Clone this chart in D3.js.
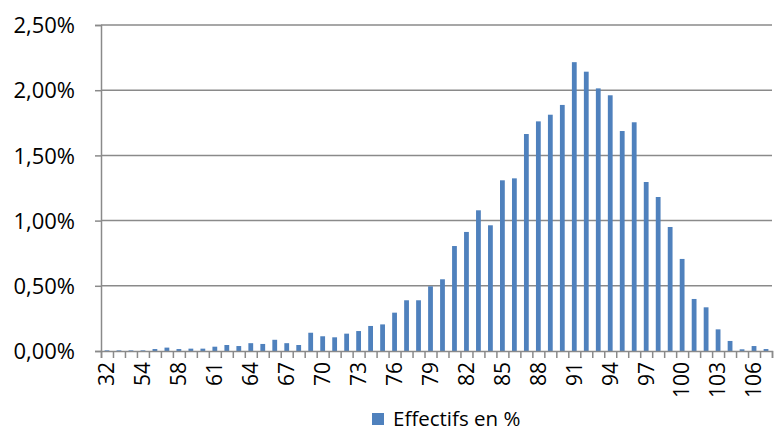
<!DOCTYPE html>
<html>
<head>
<meta charset="utf-8">
<script src="https://cdn.jsdelivr.net/npm/d3@7"></script>
<style>
  body { margin: 0; background: #fff; }
  text { font-family: "Open Sans", "Liberation Sans", sans-serif; fill: #000; }
</style>
</head>
<body>
<div id="chart"></div>
<script>
// categories (ages) and share of effectifs in %
var categories = ["32", "48", "52", "54", "56", "57", "58", "59", "60", "61",
    "62", "63", "64", "65", "66", "67", "68", "69", "70", "71",
    "72", "73", "74", "75", "76", "77", "78", "79", "80", "81",
    "82", "83", "84", "85", "86", "87", "88", "89", "90", "91",
    "92", "93", "94", "95", "96", "97", "98", "99", "100", "101",
    "102", "103", "104", "105", "106", "107"];

var values = [0.005, 0.005, 0.005, 0.005, 0.015, 0.026, 0.015, 0.018, 0.018, 0.033,
    0.046, 0.038, 0.060, 0.054, 0.086, 0.060, 0.046, 0.140, 0.113, 0.105,
    0.133, 0.153, 0.192, 0.204, 0.294, 0.389, 0.389, 0.496, 0.550, 0.805,
    0.913, 1.079, 0.964, 1.309, 1.324, 1.664, 1.761, 1.812, 1.887, 2.215,
    2.142, 2.014, 1.961, 1.687, 1.754, 1.296, 1.181, 0.951, 0.706, 0.399,
    0.335, 0.166, 0.077, 0.013, 0.038, 0.015];

var yTicks = [0, 0.5, 1.0, 1.5, 2.0, 2.5];
var seriesName = "Effectifs en %";

var data = categories.map(function (c, i) { return {x: c, y: values[i]}; });

var W = 774, H = 432;
var margin = {top: 25, right: 2, bottom: 81, left: 101},
    width = W - margin.left - margin.right,
    height = H - margin.top - margin.bottom;

var svg = d3.select("#chart")
    .append("svg")
    .attr("width", W)
    .attr("height", H);

var g = svg.append("g").attr("transform", "translate(" + margin.left + "," + margin.top + ")");

var x = d3.scaleBand()
    .domain(categories)
    .range([0, width])
    .paddingInner(0.6)
    .paddingOuter(0.3);

// category boundaries for tick marks
var xb = d3.scaleLinear().domain([0, categories.length]).range([0, width]);

var y = d3.scaleLinear()
    .domain([0, 2.5])
    .range([height, 0]);

var fmt = function (d) { return d3.format(".2f")(d).replace(".", ",") + "%"; };

// gridlines
g.append("g")
    .selectAll("line")
    .data(yTicks.slice(1))
    .enter().append("line")
    .attr("x1", 0).attr("x2", width)
    .attr("y1", function (d) { return y(d); })
    .attr("y2", function (d) { return y(d); })
    .attr("stroke", "#8a8a8a")
    .attr("stroke-width", 1.5);

// y axis
var yAxis = g.append("g")
    .call(d3.axisLeft(y).tickValues(yTicks).tickFormat(fmt).tickSize(6).tickPadding(20));
yAxis.select(".domain").attr("stroke", "#8a8a8a").attr("stroke-width", 1.5);
yAxis.selectAll(".tick line").attr("stroke", "#8a8a8a").attr("stroke-width", 1.5);
yAxis.selectAll("text").style("font-size", "22px").attr("dy", "0.35em");

// bars
g.selectAll(".bar")
    .data(data)
    .enter().append("rect")
    .attr("class", "bar")
    .attr("x", function (d) { return x(d.x); })
    .attr("y", function (d) { return y(d.y); })
    .attr("width", x.bandwidth())
    .attr("height", function (d) { return height - y(d.y); })
    .attr("fill", "#4f81bd");

// x axis: tick marks at boundaries
var xAxis = g.append("g")
    .attr("transform", "translate(0," + height + ")")
    .call(d3.axisBottom(xb).tickValues(d3.range(categories.length + 1)).tickSize(7).tickFormat(""));
xAxis.select(".domain").attr("stroke", "#8a8a8a").attr("stroke-width", 1.5);
xAxis.selectAll(".tick line").attr("stroke", "#8a8a8a").attr("stroke-width", 1.5);

// x labels, every 3rd category
var xLab = g.append("g")
    .attr("transform", "translate(0," + height + ")")
    .call(d3.axisBottom(x)
        .tickValues(categories.filter(function (d, i) { return i % 3 === 0; }))
        .tickSize(0));
xLab.select(".domain").remove();
xLab.selectAll("text")
    .style("font-size", "21px")
    .attr("y", 0)
    .attr("x", -11)
    .attr("dy", "0.35em")
    .attr("transform", "rotate(-90)")
    .style("text-anchor", "end");

// legend
var leg = svg.append("g").attr("transform", "translate(372,413)");
leg.append("rect")
    .attr("width", 12).attr("height", 12)
    .attr("fill", "#4f81bd");
leg.append("text")
    .attr("x", 21).attr("y", 12.5)
    .style("font-size", "20.5px")
    .text(seriesName);
</script>
</body>
</html>
